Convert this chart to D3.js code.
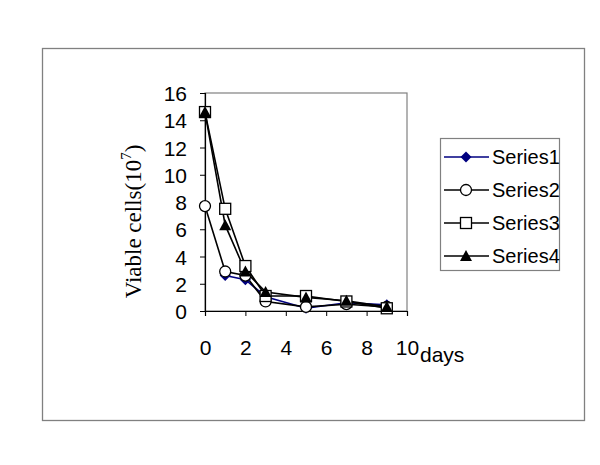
<!DOCTYPE html>
<html><head><meta charset="utf-8">
<script src="https://cdn.jsdelivr.net/npm/d3@7"></script>
<style>body{margin:0;background:#fff}</style>
</head><body>
<svg id="c" width="600" height="465"></svg>
<script>
const days = [0, 1, 2, 3, 5, 7, 9];
const series1 = [null, 2.6, 2.3, 1.05, 0.2, 0.6, 0.45];
const series2 = [7.7, 2.9, 2.6, 0.7, 0.3, 0.5, 0.3];
const series3 = [14.6, 7.5, 3.3, 1.1, 1.1, 0.7, 0.2];
const series4 = [14.6, 6.3, 2.9, 1.4, 1.0, 0.75, 0.3];
const seriesNames = ["Series1", "Series2", "Series3", "Series4"];
const xTicks = [0, 2, 4, 6, 8, 10];
const yTicks = [0, 2, 4, 6, 8, 10, 12, 14, 16];

const svg = d3.select("#c");
svg.append("rect").attr("x", 42.5).attr("y", 48.5).attr("width", 542).attr("height", 372)
  .attr("fill", "#fff").attr("stroke", "#808080").attr("stroke-width", 1.3);

const x = d3.scaleLinear().domain([0, 10]).range([205, 407]);
const y = d3.scaleLinear().domain([0, 16]).range([311, 93]);

svg.append("rect").attr("x", x(0)).attr("y", y(16)).attr("width", x(10) - x(0)).attr("height", y(0) - y(16))
  .attr("fill", "none").attr("stroke", "#808080").attr("stroke-width", 1.2);

const font = "Arial, 'Liberation Sans', sans-serif";
const yAxis = svg.append("g").attr("transform", `translate(${x(0)},0)`)
  .call(d3.axisLeft(y).tickValues(yTicks).tickSize(5).tickPadding(13).tickFormat(d3.format("d")));
const xAxis = svg.append("g").attr("transform", `translate(0,${y(0)})`)
  .call(d3.axisBottom(x).tickValues(xTicks).tickSize(5).tickPadding(24).tickFormat(d3.format("d")));
[xAxis, yAxis].forEach(a => {
  a.selectAll("path.domain").attr("stroke", "#000").attr("stroke-width", 1.2);
  a.selectAll(".tick line").attr("stroke", "#000");
  a.selectAll("text").attr("font-family", font).attr("font-size", 21).attr("fill", "#000");
});
yAxis.selectAll("text").attr("dy", "0.36em");

svg.append("text").attr("x", 420).attr("y", 362).attr("font-family", font).attr("font-size", 21).text("days");

const yl = svg.append("text").attr("transform", "translate(141,221.5) rotate(-90)")
  .attr("text-anchor", "middle").attr("font-family", "'Liberation Serif', 'Times New Roman', serif")
  .attr("font-size", 23).text("Viable cells(10");
yl.append("tspan").attr("font-size", 15).attr("dy", -10).text("7");
yl.append("tspan").attr("dy", 10).text(")");

const data = [series1, series2, series3, series4];
const colors = ["#000080", "#000", "#000", "#000"];
const line = d3.line().defined(d => d != null).x((d, i) => x(days[i])).y(d => y(d));

function marker(g, k, cx, cy) {
  if (k === 0) g.append("path").attr("d", `M${cx},${cy-5.5}L${cx+5.5},${cy}L${cx},${cy+5.5}L${cx-5.5},${cy}Z`).attr("fill", "#000080");
  else if (k === 1) g.append("circle").attr("cx", cx).attr("cy", cy).attr("r", 5.5).attr("fill", "#fff").attr("stroke", "#000").attr("stroke-width", 1.3);
  else if (k === 2) g.append("rect").attr("x", cx - 5.5).attr("y", cy - 5.5).attr("width", 11).attr("height", 11).attr("fill", "#fff").attr("stroke", "#000").attr("stroke-width", 1.3);
  else g.append("path").attr("d", `M${cx},${cy-6}L${cx+6},${cy+5}L${cx-6},${cy+5}Z`).attr("fill", "#000");
}

const order = [0, 1, 2, 3];
order.forEach(k => {
  svg.append("path").datum(data[k]).attr("d", line).attr("fill", "none")
    .attr("stroke", colors[k]).attr("stroke-width", 1.6);
});
order.forEach(k => {
  const g = svg.append("g");
  data[k].forEach((v, i) => { if (v != null) marker(g, k, x(days[i]), y(v)); });
});

svg.append("rect").attr("x", 440.5).attr("y", 138.5).attr("width", 119).attr("height", 132)
  .attr("fill", "#fff").attr("stroke", "#808080").attr("stroke-width", 1.2);
seriesNames.forEach((n, k) => {
  const ly = 157 + k * 33;
  svg.append("line").attr("x1", 444).attr("x2", 489).attr("y1", ly).attr("y2", ly)
    .attr("stroke", colors[k]).attr("stroke-width", 1.6);
  marker(svg.append("g"), k, 466, ly);
  svg.append("text").attr("x", 492).attr("y", ly).attr("dy", "0.36em")
    .attr("font-family", font).attr("font-size", 20).text(n);
});
</script>
</body></html>
